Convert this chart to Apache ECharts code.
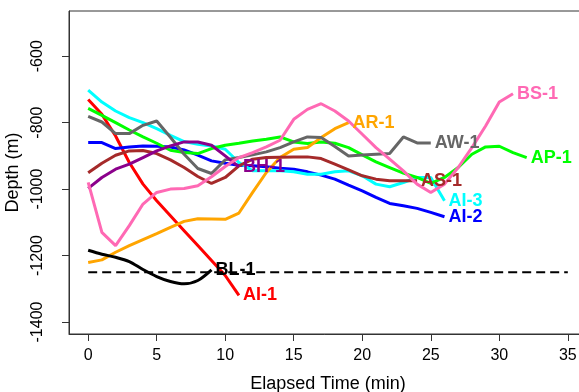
<!DOCTYPE html>
<html>
<head>
<meta charset="utf-8">
<script src="https://cdn.jsdelivr.net/npm/echarts@6/dist/echarts.min.js"></script>
<style>html,body{margin:0;padding:0;background:#fff}#c{width:579px;height:392px}</style>
</head>
<body>
<div id="c"></div>
<script>
// Depth (m) at each elapsed minute starting from 0
const seriesNames = ['AI-1','AI-2','AI-3','AP-1','AR-1','AS-1','AW-1','BH-1','BL-1','BS-1'];
const AI1 = [-730,-775,-840,-920,-985,-1035,-1080,-1125,-1170,-1215,-1260,-1320];
const AI2 = [-860,-860,-878,-873,-870,-871,-873,-882,-898,-915,-922,-928,-930,-933,-937,-940,-948,-958,-970,-988,-1005,-1025,-1043,-1050,-1058,-1070,-1083];
const AI3 = [-702,-738,-765,-785,-800,-818,-838,-857,-865,-870,-880,-920,-945,-945,-945,-948,-955,-955,-948,-945,-960,-985,-993,-980,-965,-965,-1035];
const AP1 = [-757,-778,-800,-822,-843,-862,-883,-890,-893,-878,-868,-862,-855,-850,-843,-858,-863,-858,-862,-875,-897,-918,-935,-952,-965,-983,-965,-935,-895,-873,-871,-890,-905];
const AR1 = [-1221,-1213,-1190,-1170,-1152,-1134,-1115,-1097,-1089,-1090,-1091,-1072,-1010,-950,-905,-880,-875,-845,-818,-800];
const AS1 = [-951,-922,-898,-885,-884,-893,-912,-935,-962,-983,-965,-930,-910,-905,-904,-903,-903,-908,-925,-942,-960,-970,-975,-975,-975];
const AW1 = [-781,-798,-833,-833,-808,-795,-844,-895,-938,-953,-912,-905,-897,-888,-875,-858,-843,-845,-872,-900,-897,-895,-893,-843,-861,-861];
const BH1 = [-998,-965,-940,-925,-905,-885,-870,-858,-858,-868,-900,-933];
const BL1 = [-1184,-1196,-1205,-1218,-1242,-1263,-1278,-1285,-1275,-1243];
const BS1 = [-980,-1130,-1170,-1110,-1045,-1010,-1000,-998,-990,-963,-932,-905,-890,-873,-853,-790,-760,-743,-765,-795,-835,-875,-910,-945,-985,-1010,-985,-935,-875,-810,-738,-713];
const refDepth = -1250;
const refTimes = [0, 35];
const xTicks = [0,5,10,15,20,25,30,35];
const yTicks = [-1400,-1200,-1000,-800,-600];

const seriesValues = [AI1,AI2,AI3,AP1,AR1,AS1,AW1,BH1,BL1,BS1];
const colors = ['#FF0000','#0000FF','#00FFFF','#00FF00','#FFA500','#A52A2A','#666666','#8B008B','#000000','#FF69B4'];
const FONT = 'Liberation Sans, Arial, sans-serif';

const series = seriesNames.map((name, k) => ({
  name: name,
  type: 'line',
  data: seriesValues[k].map((v, i) => [i, v]),
  showSymbol: false,
  smooth: name === 'BL-1' ? 0.3 : false,
  lineStyle: { color: colors[k], width: 3 },
  itemStyle: { color: colors[k] },
  endLabel: {
    show: true, formatter: '{a}', distance: 4,
    color: colors[k], fontSize: 18, fontWeight: 'bold', fontFamily: FONT
  },
  emphasis: { disabled: true },
  animation: false
}));
series.push({
  name: 'ref', type: 'line',
  data: refTimes.map(t => [t, refDepth]),
  showSymbol: false,
  lineStyle: { color: '#000', width: 2, type: [9, 5] },
  animation: false, silent: true
});

const chart = echarts.init(document.getElementById('c'));
chart.setOption({
  animation: false,
  backgroundColor: '#fff',
  grid: { left: 69, top: 11, right: -8, bottom: 58, show: true, borderColor: '#333', borderWidth: 1,
          containLabel: false, outerBoundsMode: 'none' },
  xAxis: {
    type: 'value', min: -1.4, max: 36.4,
    name: 'Elapsed Time (min)', nameLocation: 'middle', nameGap: 41,
    nameTextStyle: { fontSize: 18, color: '#000', fontFamily: FONT },
    axisLine: { show: true, onZero: false, lineStyle: { color: '#333', width: 1 } },
    axisTick: { show: true, customValues: xTicks, length: 7, lineStyle: { color: '#333' } },
    axisLabel: { customValues: xTicks, formatter: v => String(v), fontSize: 16, color: '#000', margin: 14, fontFamily: FONT },
    splitLine: { show: false }
  },
  yAxis: {
    type: 'value', min: -1436, max: -464,
    name: 'Depth (m)', nameLocation: 'middle', nameGap: 40, nameRotate: 90,
    nameTextStyle: { fontSize: 18, color: '#000', fontFamily: FONT },
    axisLine: { show: true, onZero: false, lineStyle: { color: '#333', width: 1 } },
    axisTick: { show: true, customValues: yTicks, length: 7, lineStyle: { color: '#333' } },
    axisLabel: { customValues: yTicks, formatter: v => String(v), rotate: 90, fontSize: 16, color: '#000', margin: 23, fontFamily: FONT },
    splitLine: { show: false }
  },
  series: series
});
</script>
</body>
</html>
